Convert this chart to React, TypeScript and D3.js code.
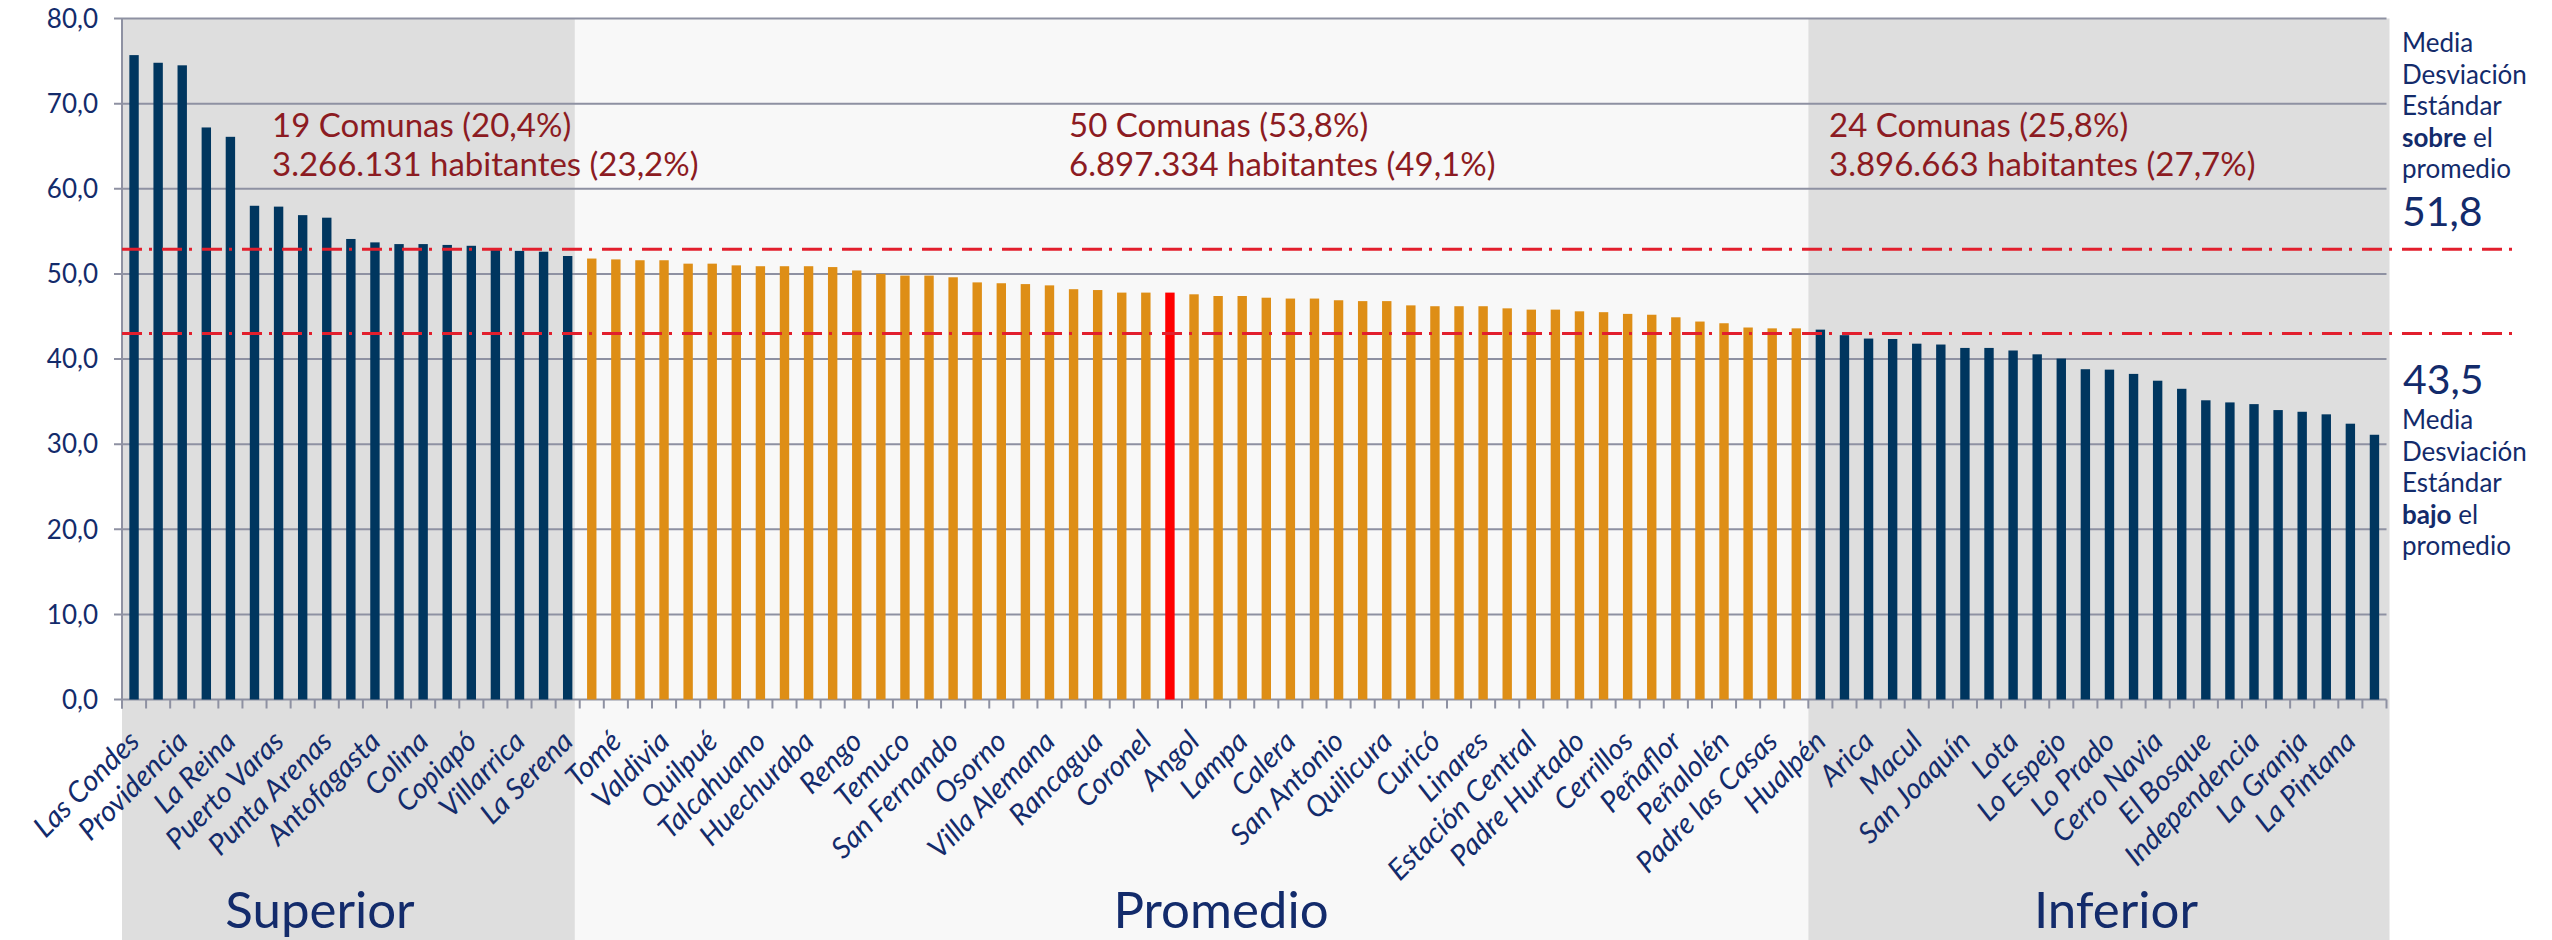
import React, { useEffect, useRef } from "react";
import * as d3 from "d3";

// bar values (sorted, left to right)
const superiorValues = [
  75.7, 74.8, 74.5, 67.2, 66.1, 58.0, 57.9, 56.9, 56.6, 54.1, 53.7, 53.5, 53.5,
  53.4, 53.3, 52.8, 52.7, 52.6, 52.1,
];
const promedioValues = [
  51.8, 51.7, 51.6, 51.6, 51.2, 51.2, 51.0, 50.9, 50.9, 50.9, 50.8, 50.4, 50.0,
  49.8, 49.8, 49.6, 49.0, 48.9, 48.8, 48.65, 48.2, 48.1, 47.8, 47.8, 47.8, 47.6,
  47.4, 47.4, 47.2, 47.1, 47.1, 46.9, 46.8, 46.8, 46.3, 46.2, 46.2, 46.2, 45.95,
  45.8, 45.8, 45.6, 45.5, 45.3, 45.2, 44.9, 44.4, 44.2, 43.7, 43.6, 43.6,
];
const inferiorValues = [
  43.45, 42.8, 42.4, 42.35, 41.8, 41.7, 41.3, 41.3, 41.0, 40.55, 40.05, 38.8,
  38.75, 38.25, 37.45, 36.5, 35.15, 34.9, 34.7, 34.0, 33.8, 33.5, 32.4, 31.1,
];

// only every other bar carries a label
const superiorLabels = [
  "Las Condes", "Providencia", "La Reina", "Puerto Varas", "Punta Arenas",
  "Antofagasta", "Colina", "Copiapó", "Villarrica", "La Serena",
];
const promedioLabels = [
  "Tomé", "Valdivia", "Quilpué", "Talcahuano", "Huechuraba", "Rengo", "Temuco",
  "San Fernando", "Osorno", "Villa Alemana", "Rancagua", "Coronel", "Angol",
  "Lampa", "Calera", "San Antonio", "Quilicura", "Curicó", "Linares",
  "Estación Central", "Padre Hurtado", "Cerrillos", "Peñaflor", "Peñalolén",
  "Padre las Casas",
];
const inferiorLabels = [
  "Hualpén", "Arica", "Macul", "San Joaquín", "Lota", "Lo Espejo", "Lo Prado",
  "Cerro Navia", "El Bosque", "Independencia", "La Granja", "La Pintana",
];

const yTicks = [0, 10, 20, 30, 40, 50, 60, 70, 80];
const upperLimit = 52.9;
const lowerLimit = 43.0;
const highlightIndex = 43; // red bar inside the middle group

const groupNames = ["Superior", "Promedio", "Inferior"];
const groupNotes = [
  ["19 Comunas (20,4%)", "3.266.131 habitantes (23,2%)"],
  ["50 Comunas (53,8%)", "6.897.334 habitantes (49,1%)"],
  ["24 Comunas (25,8%)", "3.896.663 habitantes (27,7%)"],
];

const NAVY = "#00365f";
const ORANGE = "#de8e16";
const TEXT = "#132b6b";
const NOTE = "#8c1b22";
const GRID = "#8e91a2";
const FONT = "Lato, 'DejaVu Sans', sans-serif";

export default function App() {
  const svgRef = useRef<SVGSVGElement | null>(null);

  useEffect(() => {
    if (!svgRef.current) return;
    const svg = d3.select(svgRef.current);
    svg.selectAll("*").remove();

    const W = 2552;
    const H = 940;
    const left = 122;
    const right = 2386.5;
    const top = 18.5;
    const bottom = 699.5;

    const values = [...superiorValues, ...promedioValues, ...inferiorValues];
    const labels = [...superiorLabels, ...promedioLabels, ...inferiorLabels];
    const nSup = superiorValues.length;
    const nProm = promedioValues.length;

    const x = d3
      .scaleBand<number>()
      .domain(d3.range(values.length))
      .range([left, right])
      .paddingInner(0.61)
      .paddingOuter(0.305);
    const step = x.step();
    const y = d3.scaleLinear().domain([0, 80]).range([bottom, top]);

    // background bands for the three groups
    const supEnd = left + step * (nSup - 0.2);
    const infStart = left + step * (nSup + nProm);
    const bands = [
      { x0: left, x1: supEnd, fill: "#dedede" },
      { x0: supEnd, x1: infStart, fill: "#f8f8f8" },
      { x0: infStart, x1: right + 3, fill: "#dedede" },
    ];
    svg
      .selectAll("rect.band")
      .data(bands)
      .join("rect")
      .attr("x", (d) => d.x0)
      .attr("y", top)
      .attr("width", (d) => d.x1 - d.x0)
      .attr("height", H - top)
      .attr("fill", (d) => d.fill);

    // gridlines + y ticks
    svg
      .append("g")
      .selectAll("line")
      .data(yTicks)
      .join("line")
      .attr("x1", left - 8)
      .attr("x2", right)
      .attr("y1", (d) => y(d))
      .attr("y2", (d) => y(d))
      .attr("stroke", GRID)
      .attr("stroke-width", 2);

    svg
      .append("g")
      .selectAll("text")
      .data(yTicks)
      .join("text")
      .attr("x", 98)
      .attr("y", (d) => y(d))
      .attr("dy", "0.36em")
      .attr("text-anchor", "end")
      .attr("font-family", FONT)
      .attr("font-size", 26)
      .attr("fill", TEXT)
      .text((d) => d3.format(".1f")(d).replace(".", ","));

    // bars
    svg
      .append("g")
      .selectAll("rect")
      .data(values)
      .join("rect")
      .attr("x", (_, i) => x(i) as number)
      .attr("y", (d) => y(d))
      .attr("width", x.bandwidth())
      .attr("height", (d) => y(0) - y(d))
      .attr("fill", (_, i) =>
        i === highlightIndex ? "#ff0000" : i < nSup || i >= nSup + nProm ? NAVY : ORANGE
      );

    // axes lines
    svg
      .append("line")
      .attr("x1", left)
      .attr("x2", left)
      .attr("y1", top)
      .attr("y2", bottom + 9)
      .attr("stroke", GRID)
      .attr("stroke-width", 2);
    svg
      .append("g")
      .selectAll("line")
      .data(d3.range(values.length + 1))
      .join("line")
      .attr("x1", (d) => left + d * step)
      .attr("x2", (d) => left + d * step)
      .attr("y1", bottom)
      .attr("y2", bottom + 9)
      .attr("stroke", GRID)
      .attr("stroke-width", 2);

    // mean +/- sd lines
    svg
      .append("g")
      .selectAll("line")
      .data([upperLimit, lowerLimit])
      .join("line")
      .attr("x1", left)
      .attr("x2", 2517)
      .attr("y1", (d) => y(d))
      .attr("y2", (d) => y(d))
      .attr("stroke", "#e21f2d")
      .attr("stroke-width", 3)
      .attr("stroke-dasharray", "20 7 3 10");

    // category labels (every other bar)
    svg
      .append("g")
      .selectAll("text")
      .data(labels)
      .join("text")
      .attr("transform", (_, k) => {
        const cx = (x(k * 2) as number) + x.bandwidth() / 2;
        return `translate(${cx},736) rotate(-45)`;
      })
      .attr("dy", "0.35em")
      .attr("text-anchor", "end")
      .attr("font-family", FONT)
      .attr("font-style", "italic")
      .attr("font-size", 29)
      .attr("fill", TEXT)
      .text((d) => d);

    // group names at the bottom
    const nameX = [320, 1221, 2116];
    svg
      .append("g")
      .selectAll("text")
      .data(groupNames)
      .join("text")
      .attr("x", (_, i) => nameX[i])
      .attr("y", 928)
      .attr("text-anchor", "middle")
      .attr("font-family", FONT)
      .attr("font-size", 51)
      .attr("fill", TEXT)
      .text((d) => d);

    // group notes
    const noteX = [272, 1069, 1829];
    const notes = svg.append("g");
    groupNotes.forEach((lines, i) => {
      lines.forEach((line, j) => {
        notes
          .append("text")
          .attr("x", noteX[i])
          .attr("y", 137 + j * 38.5)
          .attr("font-family", FONT)
          .attr("font-size", 33)
          .attr("fill", NOTE)
          .text(line);
      });
    });

    // right side text
    const side = svg
      .append("g")
      .attr("font-family", FONT)
      .attr("fill", TEXT);
    const block = (y0: number, word: string) => {
      const rows: [string, string][] = [
        ["", "Media"],
        ["", "Desviación"],
        ["", "Estándar"],
        [word, " el"],
        ["", "promedio"],
      ];
      rows.forEach(([b, t], j) => {
        const txt = side
          .append("text")
          .attr("x", 2402)
          .attr("y", y0 + j * 31.6)
          .attr("font-size", 26);
        if (b) txt.append("tspan").attr("font-weight", "bold").text(b);
        txt.append("tspan").text(t);
      });
    };
    block(52, "sobre");
    side
      .append("text")
      .attr("x", 2402)
      .attr("y", 226)
      .attr("font-size", 41)
      .text("51,8");
    side
      .append("text")
      .attr("x", 2403)
      .attr("y", 394)
      .attr("font-size", 41)
      .text("43,5");
    block(429, "bajo");

    svg.attr("width", W).attr("height", H);
  }, []);

  return (
    <div style={{ position: "absolute", left: 0, top: 0 }}>
      <svg ref={svgRef} width={2552} height={940} style={{ display: "block" }}></svg>
    </div>
  );
}
